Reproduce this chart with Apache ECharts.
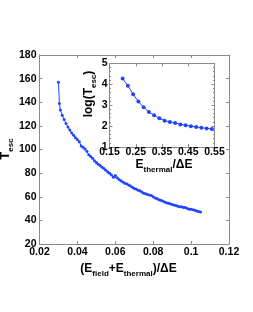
<!DOCTYPE html>
<html><head><meta charset="utf-8">
<script src="https://cdn.jsdelivr.net/npm/echarts@6/dist/echarts.min.js"></script>
<style>html,body{margin:0;padding:0;background:#fff}#c{width:253px;height:312px}</style>
</head><body><div id="c"></div>
<script>
// Main panel data
const mainX = [0.030,0.0305,0.031,0.032,0.033,0.034,0.035,0.036,0.037,0.038,0.039,0.040,0.041,0.042,0.043,0.044,0.045,0.046,0.047,0.048,0.049,0.050,0.051,0.052,0.053,0.054,0.055,0.056,0.057,0.058,0.059,0.060,0.061,0.062,0.063,0.064,0.065,0.066,0.067,0.068,0.069,0.070,0.071,0.072,0.073,0.074,0.075,0.076,0.077,0.078,0.079,0.080,0.081,0.082,0.083,0.084,0.085,0.086,0.087,0.088,0.089,0.090,0.091,0.092,0.093,0.094,0.095,0.096,0.097,0.098,0.099,0.100,0.101,0.102,0.103,0.104,0.105];
const mainY = [157,139,133.5,129,125.5,122,119,116.5,114,112,110,108.5,106.5,103,102,100.5,98.5,95.5,94,92.5,90.5,89,87.5,86.5,85,84,82.5,81,80,78.5,76.5,78,76,74.5,73.5,72.5,71.5,71,70,69,68,67,66.5,65.5,65,64,63,62.5,62,61.5,61,60,59,58.5,57.5,57,56.5,55.5,55,54.5,54,53.5,53,52.5,52,51.5,51.5,51,51,50,49.5,49.5,49,48.5,48,47.5,47];
// Inset data
const insetX = [0.20,0.22,0.24,0.26,0.28,0.30,0.32,0.34,0.36,0.38,0.40,0.42,0.44,0.46,0.48,0.50,0.52,0.54];
const insetY = [4.27,3.93,3.52,3.17,2.90,2.67,2.52,2.37,2.26,2.20,2.15,2.08,2.04,1.99,1.96,1.92,1.89,1.86];
// Tick settings
const mainXTicks = {min:0.02, max:0.12, interval:0.02};
const mainYTicks = {min:20, max:180, interval:20};
const insetXTicks = {min:0.15, max:0.55, interval:0.1};
const insetYTicks = {min:1, max:5, interval:1};
// Axis titles
const mainXTitle = '{n|(E}{s|field}{n|+E}{s|thermal}{n|)/ΔE}';
const mainYTitle = '{n|T}{s|esc}';
const insetXTitle = '{n|E}{s|thermal}{n|/ΔE}';
const insetYTitle = '{n|log(T}{s|esc}{n|)}';

const BLUE = '#2244ff';
const GRAY = '#8a8a8a';
const FONT = 'Liberation Sans, Arial, sans-serif';
const lbl = {color:'#000', fontFamily:FONT, fontWeight:'bold', fontSize:10.5};

function ax(extra){
  return Object.assign({
    type:'value',
    axisLine:{show:true, lineStyle:{color:GRAY, width:1}},
    axisTick:{show:true, inside:true, length:3, lineStyle:{color:GRAY}},
    splitLine:{show:false},
    axisLabel:Object.assign({}, lbl)
  }, extra);
}
function richFor(big, sub, drop){
  return {
    n:{fontFamily:FONT, fontWeight:'bold', fontSize:big, fill:'#000', color:'#000', verticalAlign:'top'},
    s:{fontFamily:FONT, fontWeight:'bold', fontSize:sub, fill:'#000', color:'#000', verticalAlign:'top', padding:[drop,0,0,0]}
  };
}
function title(text, x, y, rot, big){
  return {type:'text', x:x, y:y, rotation:rot, z:100,
    style:{text:text, rich:richFor(big, 8, big===13?8:7), align:'center', verticalAlign:'middle',
      fontFamily:FONT, fontWeight:'bold', fontSize:big, fill:'#000'}};
}

const chart = echarts.init(document.getElementById('c'), null, {renderer:'canvas'});
chart.setOption({
  animation:false,
  backgroundColor:'#fff',
  grid:[
    {left:39.5, right:24, top:55, bottom:68},
    {left:109.5, right:38.5, top:63.3, bottom:165, backgroundColor:'#fff', show:true, borderWidth:0}
  ],
  xAxis:[
    ax(Object.assign({gridIndex:0, position:'bottom',
      axisLabel:Object.assign({}, lbl, {margin:3, formatter:v=>String(+v.toFixed(2))})}, mainXTicks)),
    ax(Object.assign({gridIndex:0, position:'top', axisLabel:{show:false}}, mainXTicks)),
    ax(Object.assign({gridIndex:1, position:'bottom',
      axisLabel:Object.assign({}, lbl, {margin:0, formatter:v=>v.toFixed(2)})}, insetXTicks)),
    ax(Object.assign({gridIndex:1, position:'top', axisLabel:{show:false}}, insetXTicks))
  ],
  yAxis:[
    ax(Object.assign({gridIndex:0, position:'left', axisLabel:Object.assign({}, lbl, {margin:3})}, mainYTicks)),
    ax(Object.assign({gridIndex:0, position:'right', axisLabel:{show:false}}, mainYTicks)),
    ax(Object.assign({gridIndex:1, position:'left', axisLabel:Object.assign({}, lbl, {margin:2}),
      minorTick:{show:true, splitNumber:5, length:1.5, lineStyle:{color:GRAY}}}, insetYTicks)),
    ax(Object.assign({gridIndex:1, position:'right', axisLabel:{show:false},
      minorTick:{show:true, splitNumber:5, length:1.5, lineStyle:{color:GRAY}}}, insetYTicks))
  ],
  graphic:[
    title(mainXTitle, 128.5, 270, 0, 12),
    title(mainYTitle, 7, 149, Math.PI/2, 13),
    title(insetXTitle, 164, 166.5, 0, 12),
    title(insetYTitle, 90.5, 94, Math.PI/2, 12)
  ],
  series:[
    {type:'line', xAxisIndex:0, yAxisIndex:0, data:mainX.map((x,i)=>[x,mainY[i]]),
     symbol:'circle', symbolSize:3, showSymbol:true, lineStyle:{color:BLUE, width:1}, itemStyle:{color:BLUE}},
    {type:'line', xAxisIndex:2, yAxisIndex:2, data:insetX.map((x,i)=>[x,insetY[i]]),
     symbol:'circle', symbolSize:4, showSymbol:true, lineStyle:{color:BLUE, width:1}, itemStyle:{color:BLUE}}
  ]
});
</script></body></html>
